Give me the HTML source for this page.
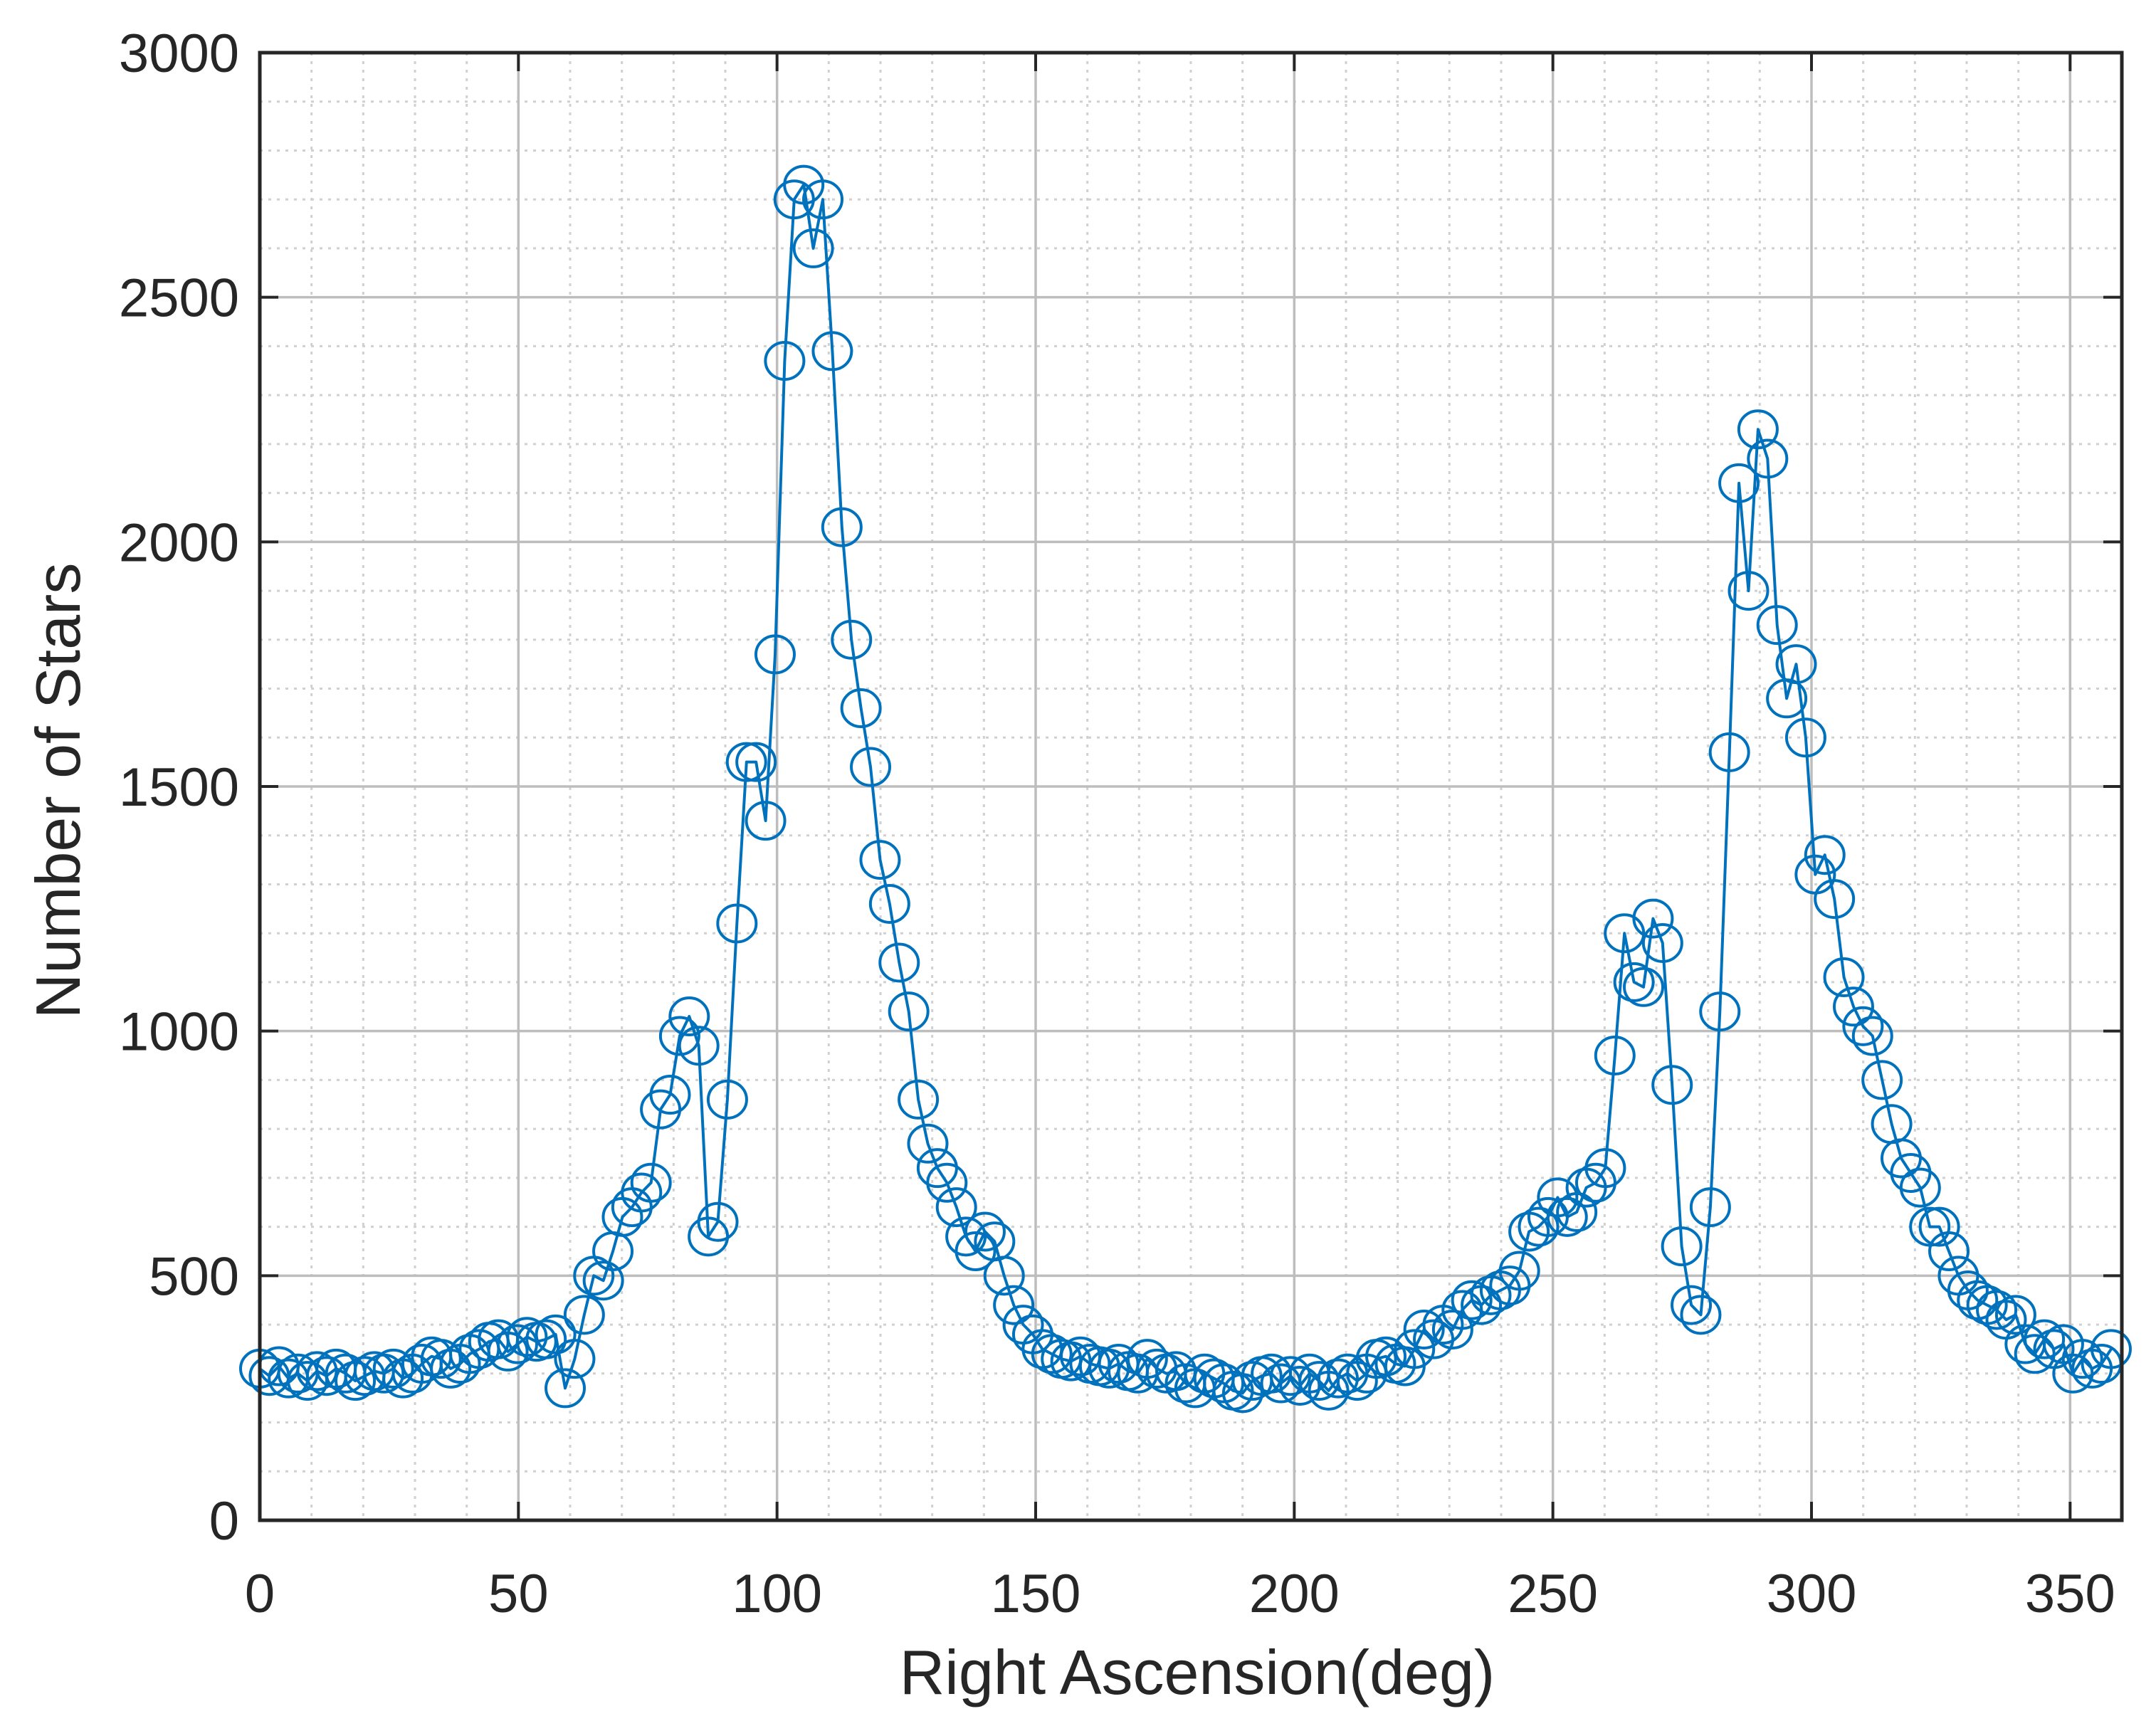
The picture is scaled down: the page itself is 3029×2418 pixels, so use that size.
<!DOCTYPE html>
<html><head><meta charset="utf-8">
<style>
html,body{margin:0;padding:0;background:#fff;}
svg{display:block;}
text{font-family:"Liberation Sans",Arial,sans-serif;fill:#262626;}
</style></head>
<body>
<svg id="chart" width="3029" height="2418" viewBox="0 0 3029 2418" xmlns="http://www.w3.org/2000/svg">
<rect x="0" y="0" width="3029" height="2418" fill="#fff"/>
<g id="grid"></g>
<g id="series"></g>
<g id="axes"></g>
<text x="1682" y="2380" font-size="88" text-anchor="middle">Right Ascension(deg)</text>
<text x="0" y="0" font-size="88" text-anchor="middle" transform="translate(112,1111) rotate(-90)">Number of Stars</text>
</svg>
<script>
const xTicks = [0,50,100,150,200,250,300,350];
const yTicks = [0,500,1000,1500,2000,2500,3000];
const STEP = 1.845;
const counts = [310,295,315,290,300,285,305,295,310,300,285,295,305,300,310,290,300,320,335,330,310,320,340,350,365,370,345,360,375,365,370,380,
270,330,420,500,490,550,620,640,670,690,840,870,990,1030,970,580,610,860,1220,1550,1550,1430,1770,2370,2700,2730,2600,2700,2390,2030,1800,1660,1540,1350,1260,1140,1040,860,770,720,690,640,580,550,590,570,500,440,400,380,350,
340,330,325,335,320,315,310,320,305,300,330,310,300,305,280,270,300,290,280,265,260,285,295,300,280,295,275,300,285,265,290,300,285,300,330,335,320,315,350,390,370,400,390,430,450,440,460,470,480,510,590,600,620,660,620,630,680,690,
720,950,1200,1100,1090,1230,1180,890,560,440,420,640,1040,1570,2120,1900,2230,2170,1830,1680,1750,1600,1320,1360,1270,1110,1050,1010,990,900,810,740,710,680,600,600,550,500,470,450,440,430,410,420,360,340,370,350,360,300,330,310,320,350];
const ra = counts.map((c,i)=>i*STEP);

const L=365,R=2981,T=74,B=2136;
const X0=0,X1=360,Y0=0,Y1=3000;
function sx(v){return L+(v-X0)/(X1-X0)*(R-L);}
function sy(v){return B-(v-Y0)/(Y1-Y0)*(B-T);}
const NS="http://www.w3.org/2000/svg";
function mk(tag,attrs,parent){const e=document.createElementNS(NS,tag);for(const k in attrs)e.setAttribute(k,attrs[k]);parent.appendChild(e);return e;}

const grid=document.getElementById('grid');
for(let v=10;v<360;v+=10){ if(v%50===0) continue;
  const l=mk('line',{x1:sx(v),x2:sx(v),y1:T,y2:B,stroke:'#d0d0d0','stroke-width':3,'stroke-dasharray':'4 8'},grid);
  
  
}
for(let v=100;v<3000;v+=100){ if(v%500===0) continue;
  const l=mk('line',{x1:L,x2:R,y1:sy(v),y2:sy(v),stroke:'#d0d0d0','stroke-width':3,'stroke-dasharray':'4 8'},grid);
  
  
}
xTicks.forEach(v=>{ if(v===0) return;
  const l=mk('line',{x1:sx(v),x2:sx(v),y1:T,y2:B,stroke:'#bdbdbd','stroke-width':3.5},grid);
  
  
});
yTicks.forEach(v=>{ if(v===0||v===3000) return;
  const l=mk('line',{x1:L,x2:R,y1:sy(v),y2:sy(v),stroke:'#bdbdbd','stroke-width':3.5},grid);
  
  
});

const series=document.getElementById('series');
const pts=counts.map((c,i)=>sx(ra[i]).toFixed(1)+','+sy(c).toFixed(1)).join(' ');
const pl=mk('polyline',{points:pts,fill:'none',stroke:'#0072BD','stroke-width':4,'stroke-linejoin':'round'},series);


counts.forEach((c,i)=>{
  const m=mk('ellipse',{cx:sx(ra[i]),cy:sy(c),rx:27,ry:26,fill:'none',stroke:'#0072BD','stroke-width':4},series);
  
  
});

const axes=document.getElementById('axes');
const box=mk('rect',{x:L,y:T,width:R-L,height:B-T,fill:'none',stroke:'#262626','stroke-width':5},axes);


xTicks.forEach(v=>{
  const t=mk('line',{x1:sx(v),x2:sx(v),y1:B,y2:B-26,stroke:'#262626','stroke-width':4},axes);
  
  
  const t2=mk('line',{x1:sx(v),x2:sx(v),y1:T,y2:T+26,stroke:'#262626','stroke-width':4},axes);
  
  
  const tx=mk('text',{x:sx(v),y:2265,'font-size':76,'text-anchor':'middle'},axes);
  tx.textContent=v;
  
  
});
yTicks.forEach(v=>{
  const t=mk('line',{x1:L,x2:L+26,y1:sy(v),y2:sy(v),stroke:'#262626','stroke-width':4},axes);
  
  
  const t2=mk('line',{x1:R,x2:R-26,y1:sy(v),y2:sy(v),stroke:'#262626','stroke-width':4},axes);
  
  
  const tx=mk('text',{x:336,y:sy(v)+27,'font-size':76,'text-anchor':'end'},axes);
  tx.textContent=v;
  
  
});
</script>
</body></html>
